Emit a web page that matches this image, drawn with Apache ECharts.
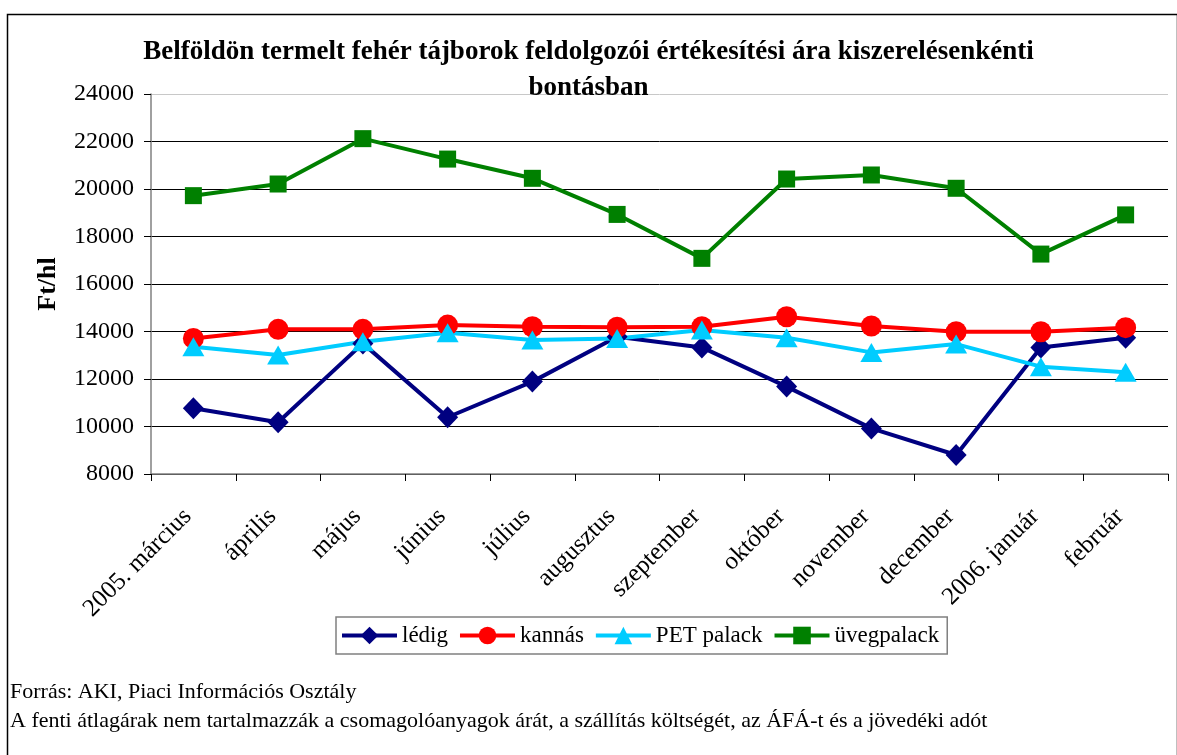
<!DOCTYPE html>
<html>
<head>
<meta charset="utf-8">
<script src="https://cdn.jsdelivr.net/npm/echarts@6/dist/echarts.min.js"></script>
<style>
html,body{margin:0;padding:0;background:#fff;}
#chart{width:1177px;height:755px;}
</style>
</head>
<body>
<div id="chart"></div>
<script>
var categories = ['2005. március','április','május','június','július','augusztus','szeptember','október','november','december','2006. január','február'];
var ledig = [10770, 10180, 13500, 10390, 11890, 13780, 13330, 11680, 9920, 8800, 13330, 13740];
var kannas = [13710, 14090, 14090, 14270, 14200, 14180, 14200, 14620, 14230, 13990, 13990, 14160];
var petPalack = [13360, 13010, 13570, 13950, 13640, 13710, 14060, 13740, 13120, 13470, 12520, 12280];
var uvegpalack = [19720, 20210, 22120, 21260, 20450, 18930, 17080, 20420, 20590, 20030, 17260, 18910];
var seriesNames = ['lédig','kannás','PET palack','üvegpalack'];
var titleText = 'Belföldön termelt fehér tájborok feldolgozói értékesítési ára kiszerelésenkénti\nbontásban';
var yAxisName = 'Ft/hl';
var footer1 = 'Forrás: AKI, Piaci Információs Osztály';
var footer2 = 'A fenti átlagárak nem tartalmazzák a csomagolóanyagok árát, a szállítás költségét, az ÁFÁ-t és a jövedéki adót';

var FONT = '"Liberation Serif", "Times New Roman", serif';
var chart = echarts.init(document.getElementById('chart'), null, {renderer:'canvas'});

function mkSeries(name, data, color, symbol, size) {
  return {
    name: name, type: 'line', data: data,
    symbol: symbol, symbolSize: size,
    lineStyle: {color: color, width: 4},
    itemStyle: {color: color},
    emphasis: {disabled: true},
    animation: false
  };
}

var option = {
  animation: false,
  backgroundColor: '#fff',
  textStyle: {fontFamily: FONT},
  title: {
    text: titleText,
    left: 'center',
    top: 29,
    textStyle: {fontFamily: FONT, fontWeight: 'bold', fontSize: 27, color: '#000', lineHeight: 36}
  },
  grid: {left: 151, right: 9, top: 94, bottom: 281, containLabel: false},
  legend: {
    data: seriesNames,
    left: 336, top: 617,
    orient: 'horizontal',
    borderColor: '#808080', borderWidth: 1.5,
    padding: [7, 8, 7, 4],
    itemGap: 10,
    itemWidth: 55, itemHeight: 22,
    lineStyle: {width: 4},
    textStyle: {fontFamily: FONT, fontSize: 23, color: '#000'}
  },
  xAxis: {
    type: 'category',
    data: categories,
    boundaryGap: true,
    axisLine: {lineStyle: {color: '#808080', width: 1.5}},
    axisTick: {show: true, length: 7, lineStyle: {color: '#000'}},
    axisLabel: {rotate: 45, interval: 0, margin: 33, padding: [0, 8, 0, 0], fontFamily: FONT, fontSize: 25, color: '#000'},
    splitLine: {show: false}
  },
  yAxis: {
    type: 'value',
    min: 8000, max: 24000, interval: 2000,
    name: yAxisName,
    nameLocation: 'middle',
    nameRotate: 90,
    nameGap: 90,
    nameTextStyle: {fontFamily: FONT, fontWeight: 'bold', fontSize: 26, color: '#000'},
    axisLine: {show: true, lineStyle: {color: '#808080', width: 1.5}},
    axisTick: {show: true, length: 7, lineStyle: {color: '#000'}},
    axisLabel: {margin: 17, fontFamily: FONT, fontSize: 24, color: '#000', formatter: function (v) { return String(v); }},
    splitLine: {show: true, lineStyle: {color: ['#000','#000','#000','#000','#000','#000','#000','#000','#c8c8c8'], width: 1}}
  },
  series: [
    mkSeries(seriesNames[0], ledig, '#000080', 'diamond', [21, 22]),
    mkSeries(seriesNames[1], kannas, '#FF0000', 'circle', 21),
    mkSeries(seriesNames[2], petPalack, '#00CCFF', 'triangle', [22, 19]),
    mkSeries(seriesNames[3], uvegpalack, '#008000', 'rect', 17)
  ],
  graphic: [
    {type: 'rect', left: 5, top: 12, shape: {x: 0, y: 0, width: 1170, height: 760}, style: {fill: 'none', stroke: '#000', lineWidth: 1.5}, silent: true, z: -1},
    {type: 'text', left: 10, top: 681, style: {text: footer1, font: '22px ' + FONT, fill: '#000'}},
    {type: 'text', left: 10, top: 710, style: {text: footer2, font: '22px ' + FONT, fill: '#000'}}
  ]
};
chart.setOption(option);
</script>
</body>
</html>
